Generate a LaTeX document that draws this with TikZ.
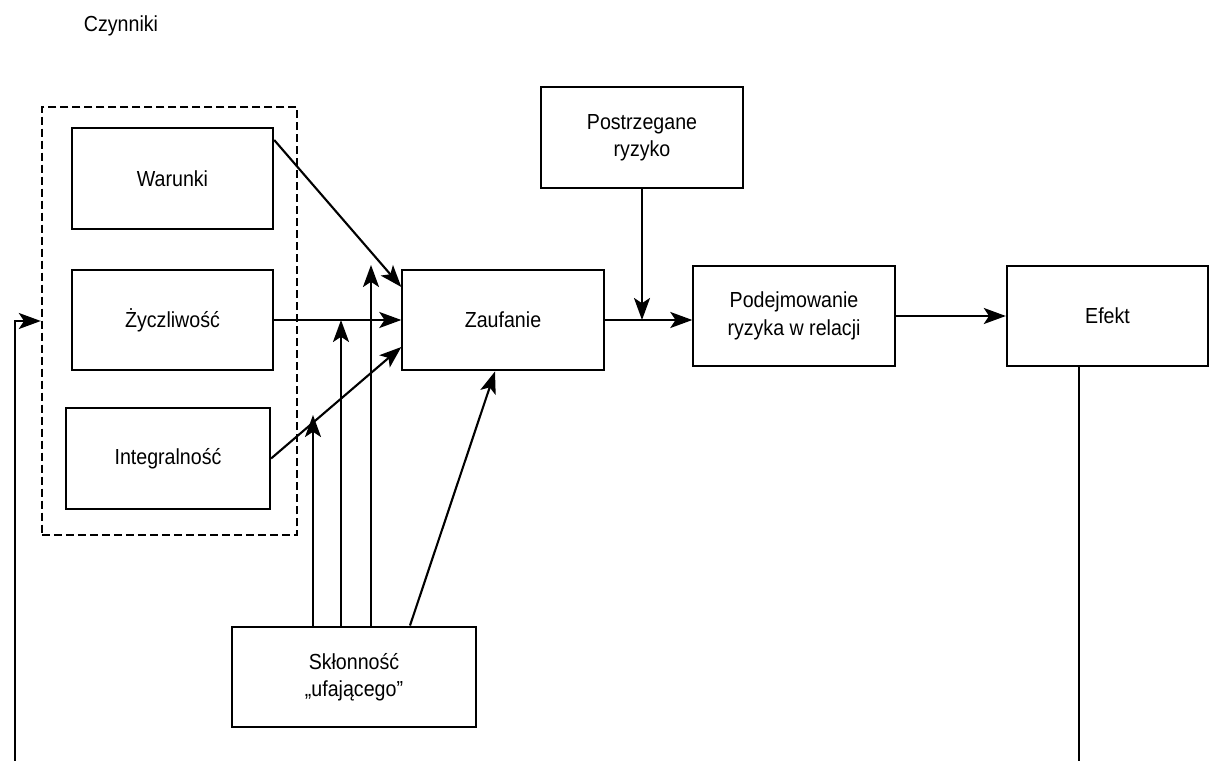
\documentclass[tikz,border=0pt]{standalone}
\usepackage{fontspec}
\setmainfont{Liberation Sans}[FakeStretch=0.9]
\usetikzlibrary{arrows.meta}

\tikzset{
    box/.style={draw=black, line width=1.5pt, minimum width=5.03cm, minimum height=2.52cm, align=center, font=\fontsize{15.5}{19.5}\selectfont},
    arr/.style={line width=1.5pt, -{Stealth[length=0.55cm, width=0.4cm, inset=0.13cm]}},
    group/.style={draw=black, line width=1.5pt, dash pattern=on 0.2cm off 0.1cm, minimum width=6.38cm, minimum height=10.7cm}
}

\begin{document}
\begin{tikzpicture}[x=0.025cm, y=-0.025cm]
    \useasboundingbox (0,0) rectangle (1214,761);

    % Title
    \node[font=\fontsize{15.5}{19.5}\selectfont] (title) at (121,26) {Czynniki};

    % Group of factors
    \node[group] (grp) at (169.5,321) {};
    \node[box] (war) at (172.5,178.5) {Warunki};
    \node[box] (zyc) at (172.5,320) {Życzliwość};
    \node[box, minimum width=5.1cm] (int) at (168,458.5) {Integralność};

    % Main chain
    \node[box] (zau) at (503,320) {Zaufanie};
    \node[box] (pos) at (642,137.5) {Postrzegane\\ryzyko};
    \node[box] (pod) at (794,316) {Podejmowanie\\ryzyka w relacji};
    \node[box] (efe) at (1107.5,316) {Efekt};
    \node[box, minimum width=6.1cm] (skl) at (354,677) {Skłonność\\„ufającego”};

    % Free ends
    \coordinate (t1) at (313,415);
    \coordinate (t2) at (341,320);
    \coordinate (t3) at (371,265);
    \coordinate (fb1) at (1079,762);
    \coordinate (fb2) at (15,762);

    % Factors to trust
    \draw[arr] (war.north east |- 0,140) -- (zau.west |- 0,287);
    \draw[arr] (zyc.east) -- (zau.west);
    \draw[arr] (int.east) -- (zau.west |- 0,347);

    % Propensity
    \foreach \i in {1,2,3} {
        \draw[arr] (skl.north -| t\i) -- (t\i);
    }
    \draw[arr] (skl.north -| 410,0) -- (zau.south -| 495,0);

    % Chain
    \draw[arr] (zau.east) -- (zau.east -| pod.west);
    \draw[arr] (pos.south) -- (pos.south |- zau.east);
    \draw[arr] (pod.east) -- (efe.west);

    % Feedback
    \draw[line width=1.5pt] (efe.south -| fb1) -- (fb1);
    \draw[arr] (fb2) |- (grp.west);
\end{tikzpicture}
\end{document}
